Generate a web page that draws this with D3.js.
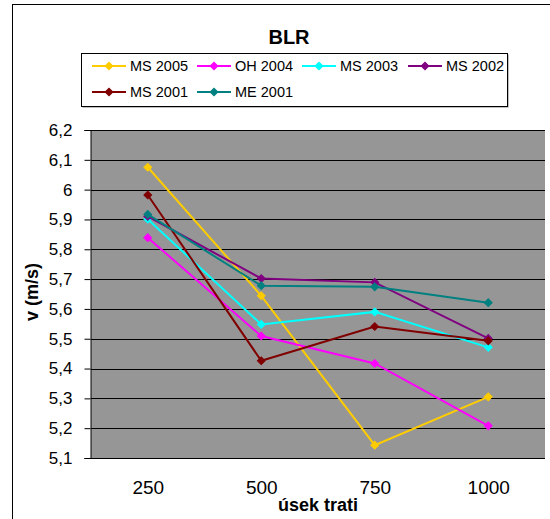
<!DOCTYPE html>
<html>
<head>
<meta charset="utf-8">
<script src="https://cdn.jsdelivr.net/npm/d3@7"></script>
<style>
  body { margin: 0; background: #fff; }
  svg text { font-family: "Liberation Sans", Arial, sans-serif; }
</style>
</head>
<body>
<svg id="chart" width="550" height="519"></svg>
<script>
// úseky trati (m)
const useky = ["250", "500", "750", "1000"];
const yTicks = [5.1, 5.2, 5.3, 5.4, 5.5, 5.6, 5.7, 5.8, 5.9, 6, 6.1, 6.2];

const ms2005 = [6.075, 5.644, 5.143, 5.305];
const oh2004 = [5.839, 5.509, 5.417, 5.208];
const ms2003 = [5.901, 5.548, 5.590, 5.471];
const ms2002 = [5.910, 5.702, 5.689, 5.501];
const ms2001 = [5.982, 5.426, 5.541, 5.493];
const me2001 = [5.917, 5.678, 5.674, 5.621];

const series = [
  { name: "MS 2005", values: ms2005, color: "#FFCC00" },
  { name: "OH 2004", values: oh2004, color: "#FF00FF" },
  { name: "MS 2003", values: ms2003, color: "#00FFFF" },
  { name: "MS 2002", values: ms2002, color: "#800080" },
  { name: "MS 2001", values: ms2001, color: "#800000" },
  { name: "ME 2001", values: me2001, color: "#008080" }
];

const svg = d3.select("#chart");

// outer chart frame (runs off the right and bottom edge)
svg.append("rect")
  .attr("x", 12.5).attr("y", 4.5)
  .attr("width", 560).attr("height", 540)
  .attr("fill", "#fff").attr("stroke", "#000");

const plot = { left: 91, right: 545, top: 130, bottom: 458 };

const x = d3.scalePoint()
  .domain(useky)
  .range([plot.left, plot.right])
  .padding(0.5);

const y = d3.scaleLinear()
  .domain([5.1, 6.2])
  .range([plot.bottom, plot.top]);

// plot area
svg.append("rect")
  .attr("x", plot.left).attr("y", plot.top)
  .attr("width", plot.right - plot.left)
  .attr("height", plot.bottom - plot.top)
  .attr("fill", "#969696");

// gridlines
svg.append("g")
  .selectAll("line")
  .data(yTicks.slice(1))
  .join("line")
  .attr("x1", plot.left).attr("x2", plot.right)
  .attr("y1", d => Math.round(y(d)) + 0.5)
  .attr("y2", d => Math.round(y(d)) + 0.5)
  .attr("stroke", "#000");

// y axis
const yAxis = svg.append("g")
  .attr("transform", `translate(${plot.left - 0.5},0)`)
  .call(d3.axisLeft(y)
    .tickValues(yTicks)
    .tickSize(6)
    .tickFormat(d => String(d).replace(".", ",")));
yAxis.select(".domain").attr("stroke", "#000");
yAxis.selectAll(".tick line").attr("stroke", "#000");
yAxis.selectAll("text")
  .attr("x", -18)
  .attr("fill", "#000")
  .style("font-size", "17px");

// x axis
const xAxis = svg.append("g")
  .attr("transform", `translate(0,${plot.bottom + 0.5})`)
  .call(d3.axisBottom(x).tickSize(0).tickPadding(0));
xAxis.select(".domain").attr("d", `M${plot.left - 6},0H${plot.right}`).attr("stroke", "#000");
xAxis.selectAll("text")
  .attr("dy", 0)
  .attr("y", 35)
  .attr("fill", "#000")
  .style("font-size", "19px");

// series lines + markers
const line = d3.line()
  .x((d, i) => x(useky[i]))
  .y(d => y(d));

const marker = d3.symbol().type(d3.symbolSquare).size(30);

const g = svg.append("g");
series.forEach(s => {
  g.append("path")
    .attr("d", line(s.values))
    .attr("fill", "none")
    .attr("stroke", s.color)
    .attr("stroke-width", 2);
  g.selectAll(null)
    .data(s.values)
    .join("path")
    .attr("d", marker)
    .attr("transform", (d, i) => `translate(${x(useky[i])},${y(d)}) rotate(45)`)
    .attr("fill", s.color)
    .attr("stroke", s.color);
});

// titles
svg.append("text")
  .attr("x", 289).attr("y", 44)
  .attr("text-anchor", "middle")
  .style("font-size", "20px").style("font-weight", "bold")
  .text("BLR");

svg.append("text")
  .attr("transform", "translate(38,292) rotate(-90)")
  .attr("text-anchor", "middle")
  .style("font-size", "18px").style("font-weight", "bold")
  .text("v (m/s)");

svg.append("text")
  .attr("x", 318).attr("y", 511)
  .attr("text-anchor", "middle")
  .style("font-size", "18px").style("font-weight", "bold")
  .text("úsek trati");

// legend
const leg = svg.append("g");
leg.append("rect")
  .attr("x", 82.5).attr("y", 54.5).attr("width", 426).attr("height", 53)
  .attr("fill", "#808080");
leg.append("rect")
  .attr("x", 81.5).attr("y", 53.5).attr("width", 426).attr("height", 53)
  .attr("fill", "#fff").attr("stroke", "#000");

const legX = [92, 197, 302, 408];
const legY = [66, 92];
series.forEach((s, i) => {
  const lx = legX[i % 4], ly = legY[Math.floor(i / 4)];
  const item = leg.append("g").attr("transform", `translate(${lx},${ly})`);
  item.append("line")
    .attr("x1", 0).attr("x2", 34)
    .attr("stroke", s.color).attr("stroke-width", 2);
  item.append("path")
    .attr("d", marker)
    .attr("transform", "translate(17,0) rotate(45)")
    .attr("fill", s.color).attr("stroke", s.color);
  item.append("text")
    .attr("x", 38).attr("y", 5)
    .style("font-size", "14.5px")
    .text(s.name);
});
</script>
</body>
</html>
